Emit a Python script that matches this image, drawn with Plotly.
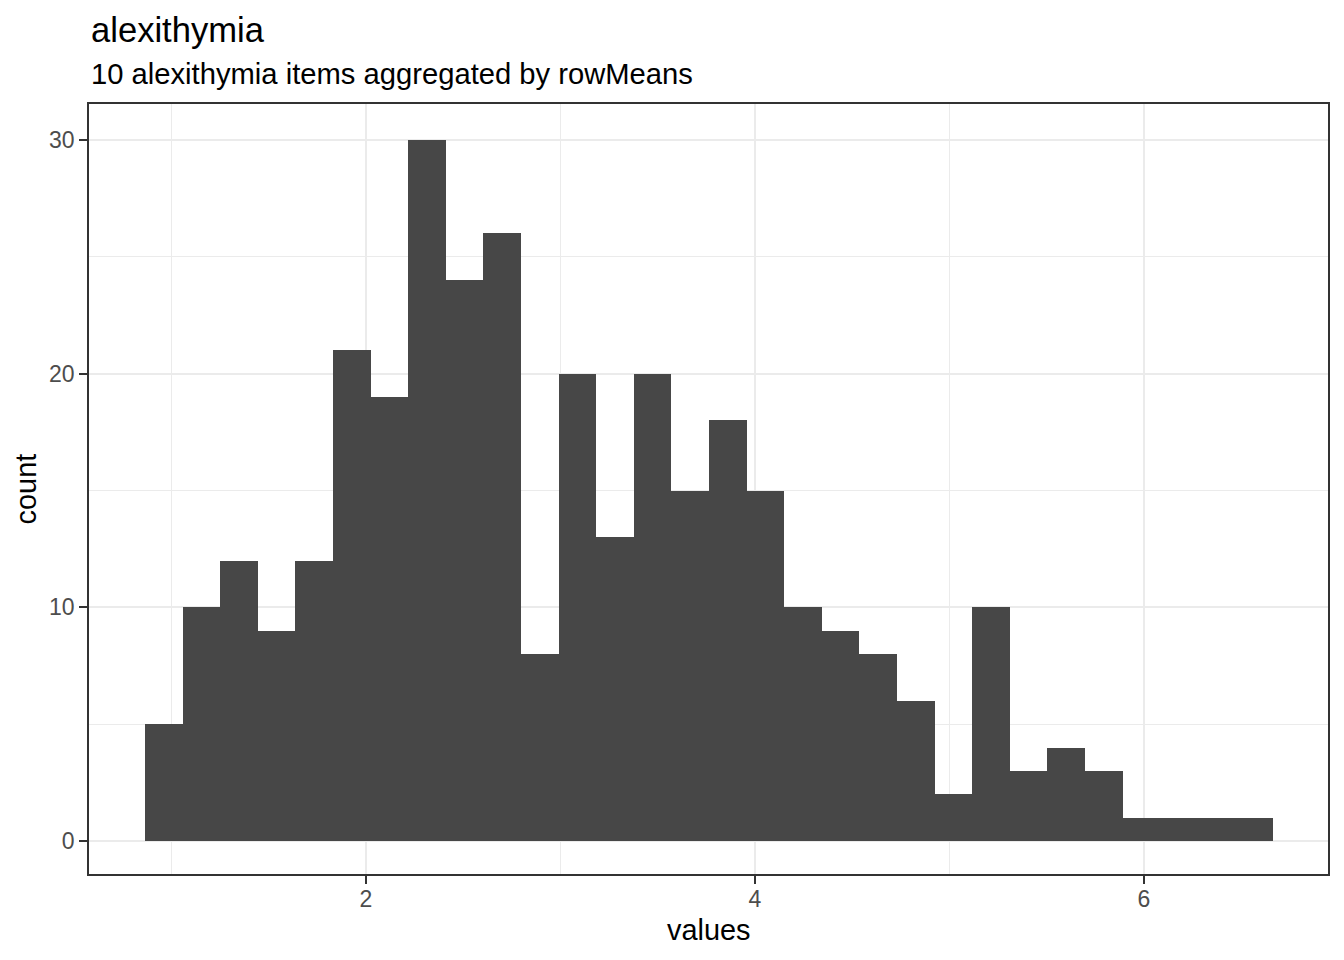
import numpy as np
import plotly.graph_objects as go

# histogram of the 10-item alexithymia score (30 bins)
bin_left = 0.8638   # left edge of first bin
bin_right = 6.663   # right edge of last bin
counts = [5, 10, 12, 9, 12, 21, 19, 30, 24, 26,
          8, 20, 13, 20, 15, 18, 15, 10, 9, 8,
          6, 2, 10, 3, 4, 3, 1, 1, 1, 1]

x_ticks = [2, 4, 6]
y_ticks = [0, 10, 20, 30]

title_text = 'alexithymia'
subtitle_text = '10 alexithymia items aggregated by rowMeans'
x_title = 'values'
y_title = 'count'

n_bins = len(counts)
bin_width = (bin_right - bin_left) / n_bins
bin_centers = bin_left + bin_width * (np.arange(n_bins) + 0.5)

FONT = 'Liberation Sans, Arial, Helvetica, sans-serif'

fig = go.Figure()
fig.add_trace(go.Bar(
    x=bin_centers,
    y=counts,
    width=bin_width,
    marker=dict(color='#474747', line=dict(width=0)),
    hoverinfo='x+y',
    showlegend=False,
))

axis_common = dict(
    showline=True,
    mirror=True,
    linecolor='#333333',
    linewidth=1.5,
    ticks='outside',
    ticklen=8,
    tickwidth=1.5,
    tickcolor='#333333',
    tickfont=dict(family=FONT, size=23, color='#4D4D4D'),
    showgrid=True,
    gridcolor='#EBEBEB',
    gridwidth=2.2,
    zeroline=False,
)

fig.update_layout(
    width=1344,
    height=960,
    margin=dict(l=89, r=16, t=104, b=86),
    paper_bgcolor='white',
    plot_bgcolor='white',
    bargap=0,
    font=dict(family=FONT),
    xaxis=dict(
        axis_common,
        range=[0.5758, 6.946],
        tickvals=x_ticks,
        ticktext=[str(v) for v in x_ticks],
        ticklabelstandoff=-4,
        minor=dict(dtick=1, tick0=0, showgrid=True, gridcolor='#EBEBEB', gridwidth=1.1, ticks=''),
    ),
    yaxis=dict(
        axis_common,
        range=[-1.412, 31.54],
        tickvals=y_ticks,
        ticktext=[str(v) for v in y_ticks],
        minor=dict(dtick=5, tick0=0, showgrid=True, gridcolor='#EBEBEB', gridwidth=1.1, ticks=''),
    ),
    annotations=[
        dict(text=title_text, xref='paper', yref='paper', x=0, y=1.0961,
             xanchor='left', yanchor='middle', showarrow=False,
             font=dict(family=FONT, size=34.6, color='black')),
        dict(text=subtitle_text, xref='paper', yref='paper', x=0, y=1.039,
             xanchor='left', yanchor='middle', showarrow=False,
             font=dict(family=FONT, size=29.2, color='black')),
        dict(text=x_title, xref='paper', yref='paper', x=0.5, y=-0.0727,
             xanchor='center', yanchor='middle', showarrow=False,
             font=dict(family=FONT, size=28.9, color='black')),
        dict(text=y_title, xref='paper', yref='paper', x=-0.0505, y=0.5,
             xanchor='center', yanchor='middle', showarrow=False, textangle=-90,
             font=dict(family=FONT, size=28.9, color='black')),
    ],
)

# drop the default page margin so the figure sits at the window's corner
fig.write_html('out.html', config={'displayModeBar': False},
               post_script="document.body.style.margin='0';")
